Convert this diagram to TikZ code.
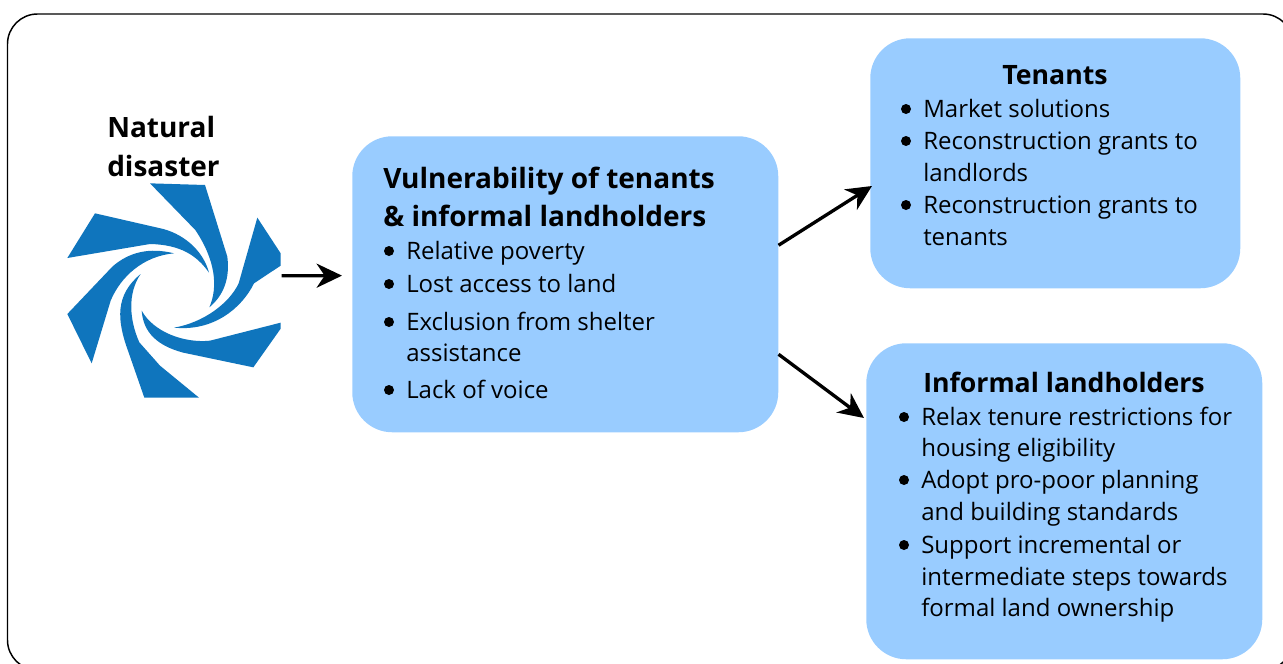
\documentclass[tikz,border=0pt]{standalone}
\usepackage{fontspec}
\setmainfont{Open Sans}
\usetikzlibrary{arrows.meta}
\definecolor{boxblue}{HTML}{99CCFF}
\definecolor{swirl}{HTML}{0F75BD}
\tikzset{
  x=0.75pt,y=-0.75pt,
  box/.style={fill=boxblue,draw=none,rounded corners=30pt,inner sep=0pt,anchor=north west},
  ln/.style={anchor=base west,inner sep=0pt,font=\fontsize{18pt}{20pt}\selectfont},
  hd/.style={anchor=base west,inner sep=0pt,font=\fontsize{20pt}{22pt}\selectfont\bfseries},
  hdl/.style={anchor=base west,inner sep=0pt,font=\fontsize{21pt}{22pt}\selectfont\bfseries},
  bul/.style={circle,fill=black,draw=none,inner sep=0pt,minimum size=7.5pt},
  conn/.style={line width=2.5pt,-{Stealth[length=19pt,width=18pt,inset=6pt]}},
  blade/.style={fill=swirl,draw=none},
}
\newcommand{\bulline}[3]{\node[bul] (b#1) at (#2,#3-8) {};}
\begin{document}
\begin{tikzpicture}
\useasboundingbox (0,0) rectangle (1283,664);
\begin{scope}
\clip (0,0) rectangle (1283,664);
\draw[line width=1.1pt,rounded corners=22.5pt] (7.5,670) -- (7.5,14) -- (1293,14) -- (1293,670) -- cycle;
\end{scope}
% boxes
\node[box,minimum width=319.5pt,minimum height=222pt] (vuln) at (352,136) {};
\node[box,minimum width=277.5pt,minimum height=187.5pt] (ten) at (870,38) {};
\node[box,minimum width=297pt,minimum height=237pt] (inf) at (866,343) {};
% image
\node[inner sep=0pt,minimum width=160.5pt,minimum height=161.25pt,fill=white,anchor=north west] (img) at (67,183) {};
\begin{scope}[shift={(50,170)},x=0.25pt,y=-0.25pt]
\fill[blade] (300,40) -- (465,45) -- (532,260) .. controls (540,325) and (522,375) .. (478,412) .. controls (505,350) and (496,270) .. (436,180) -- cycle;
\fill[blade] (622,143) -- (692,250) -- (692,287) -- (612,340) .. controls (575,415) and (490,485) .. (372,473) .. controls (460,458) and (538,400) .. (566,340) -- cycle;
\fill[blade] (692,458) -- (692,476) -- (610,592) -- (400,548) .. controls (325,528) and (280,490) .. (275,422) .. controls (310,485) and (400,520) .. (480,512) -- cycle;
\fill[blade] (447,683) -- (283,683) -- (235,545) .. controls (200,450) and (195,375) .. (272,312) .. controls (232,370) and (238,450) .. (268,517) -- (330,587) -- cycle;
\fill[blade] (52,432) -- (125,580) -- (182,392) .. controls (212,320) and (280,258) .. (372,250) .. controls (300,232) and (238,245) .. (187,290) -- cycle;
\fill[blade] (52,264) -- (135,130) -- (340,177) .. controls (412,197) and (462,250) .. (477,308) .. controls (440,255) and (390,224) .. (300,222) -- cycle;
\end{scope}
% connectors
\draw[conn,shorten >=7.5pt] ([yshift=11.25pt]img.east) -- ([yshift=6.5pt]vuln.west);
\coordinate (tenin) at (872,186);
\coordinate (infin) at (864,418);
\draw[conn] ([yshift=29.25pt]vuln.east) -- (tenin);
\draw[conn] ([yshift=-52.5pt]vuln.east) -- (infin);
% titles
\node[hdl] (nd1) at (107,137) {Natural};
\node[hdl] (nd2) at (107,176) {disaster};
\node[hdl] (v1) at (383,188) {Vulnerability of tenants};
\node[hdl] (v2) at (383,226) {\& informal landholders};
\node[hd,anchor=base] (t0) at (1055,84) {Tenants};
\node[hd,anchor=base] (i0) at (1064,392) {Informal landholders};
% vulnerability list
\bulline{v1}{389}{259}\node[ln] (tv1) at (406,259) {Relative poverty};
\bulline{v2}{389}{292}\node[ln] (tv2) at (406,292) {Lost access to land};
\bulline{v3}{389}{330}\node[ln] (tv3) at (406,330) {Exclusion from shelter};
\node[ln] (tv4) at (406,361) {assistance};
\bulline{v5}{389}{398}\node[ln] (tv5) at (406,398) {Lack of voice};
% tenants list
\bulline{t1}{906}{117}\node[ln] (tt1) at (923,117) {Market solutions};
\bulline{t2}{906}{149}\node[ln] (tt2) at (923,149) {Reconstruction grants to};
\node[ln] (tt3) at (923,181) {landlords};
\bulline{t4}{906}{213}\node[ln] (tt4) at (923,213) {Reconstruction grants to};
\node[ln] (tt5) at (923,245) {tenants};
% informal list
\bulline{i1}{904}{425}\node[ln] (ti1) at (921,425) {Relax tenure restrictions for};
\node[ln] (ti2) at (921,456) {housing eligibility};
\bulline{i3}{904}{488}\node[ln] (ti3) at (921,488) {Adopt pro-poor planning};
\node[ln] (ti4) at (921,520) {and building standards};
\bulline{i5}{904}{553}\node[ln] (ti5) at (921,553) {Support incremental or};
\node[ln] (ti6) at (921,585) {intermediate steps towards};
\node[ln] (ti7) at (921,616) {formal land ownership};
\end{tikzpicture}
\end{document}
